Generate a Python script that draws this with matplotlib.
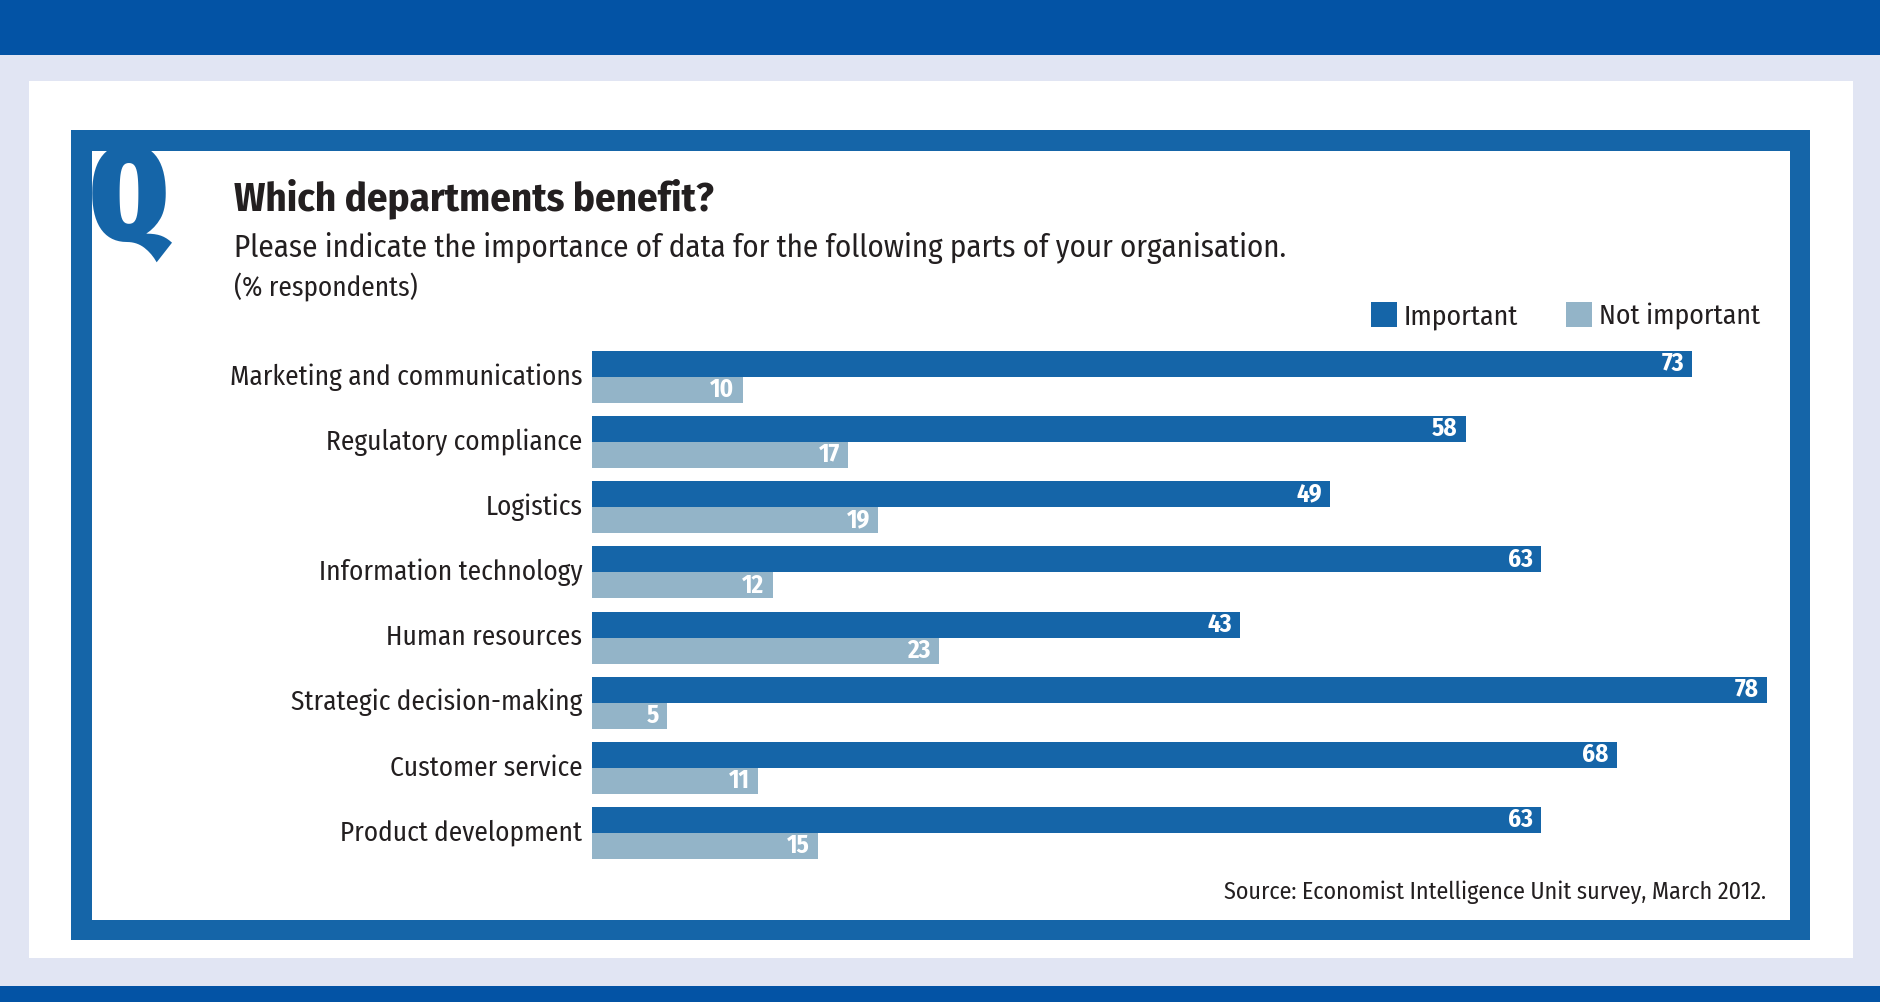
import matplotlib
matplotlib.use("Agg")
import matplotlib.pyplot as plt
from matplotlib.patches import Rectangle, Patch

# data (% respondents)
categories = ["Marketing and communications", "Regulatory compliance", "Logistics",
              "Information technology", "Human resources", "Strategic decision-making",
              "Customer service", "Product development"]
important = [73, 58, 49, 63, 43, 78, 68, 63]
not_important = [10, 17, 19, 12, 23, 5, 11, 15]

# colours
band_blue = "#0353a5"
frame_blue = "#1565a8"
bar_dark = "#1565a8"
bar_light = "#93b4c8"
lavender = "#e1e5f3"
ink = "#231f20"

plt.rcParams["font.family"] = ["Fira Sans Condensed", "DejaVu Sans"]

W, H = 1881, 1002
fig = plt.figure(figsize=(W / 100, H / 100), dpi=100)
fig.patch.set_facecolor(lavender)

def px_rect(x0, y0, x1, y1, color):
    # rectangle given in pixel coords (origin top-left)
    fig.add_artist(Rectangle((x0 / W, 1 - y1 / H), (x1 - x0) / W, (y1 - y0) / H,
                             transform=fig.transFigure, facecolor=color,
                             edgecolor="none", zorder=0))

# page furniture
px_rect(0, 0, W, 55, band_blue)
px_rect(0, 986, W, H, band_blue)
px_rect(29, 81, 1853, 958, "white")
px_rect(71, 130, 1810, 940, frame_blue)
px_rect(92, 151, 1790, 920, "white")

fig.text(90 / W, 1 - 138 / H, "Q", color=frame_blue, fontsize=96, fontweight="black",
         family=["Fira Sans Extra Condensed", "Fira Sans Condensed", "DejaVu Sans"],
         ha="left", va="top")

fig.text(234 / W, 1 - 210 / H, "Which departments benefit?", color=ink, fontsize=29.3,
         fontweight="bold", ha="left", va="baseline")
fig.text(234 / W, 1 - 257 / H,
         "Please indicate the importance of data for the following parts of your organisation.",
         color=ink, fontsize=22.3, ha="left", va="baseline")
fig.text(234 / W, 1 - 296 / H, "(% respondents)", color=ink, fontsize=19.5,
         ha="left", va="baseline")
fig.text(1766 / W, 1 - 892 / H, "Source: Economist Intelligence Unit survey, March 2012.",
         color=ink, fontsize=17.3, ha="right", va="center")

# bars
x_max = 80
ax = fig.add_axes([592 / W, 1 - 859 / H, x_max * 15.07 / W, 508 / H])
ax.set_facecolor("none")
ypos = list(range(len(categories)))
b1 = ax.barh([y - 0.2 for y in ypos], important, height=0.4, color=bar_dark)
b2 = ax.barh([y + 0.2 for y in ypos], not_important, height=0.4, color=bar_light)

for y, v in zip(ypos, important):
    ax.annotate(str(v), (v, y - 0.2), xytext=(-6, 0), textcoords="offset points",
                ha="right", va="center", color="white", fontsize=18, fontweight="bold")
for y, v in zip(ypos, not_important):
    ax.annotate(str(v), (v, y + 0.2), xytext=(-6, 0), textcoords="offset points",
                ha="right", va="center", color="white", fontsize=18, fontweight="bold")

ax.set_xlim(0, x_max)
ax.set_ylim(7.4, -0.4)
ax.set_yticks(ypos)
ax.set_yticklabels(categories, fontsize=19.6, color=ink, va="center")
ax.tick_params(axis="y", length=0, pad=7)
ax.set_xticks([])
for s in ax.spines.values():
    s.set_visible(False)

handles = [Patch(facecolor=bar_dark, label="Important"),
           Patch(facecolor=bar_light, label="Not important")]
fig.legend(handles=handles, ncol=2, frameon=False, fontsize=20, labelcolor=ink,
           loc="center right", bbox_to_anchor=(1760 / W, 1 - 316 / H),
           bbox_transform=fig.transFigure, borderpad=0, borderaxespad=0,
           handlelength=0.95, handleheight=1.0, handletextpad=0.25, columnspacing=1.7)

fig.savefig("out.png", dpi=100, facecolor=fig.get_facecolor())
